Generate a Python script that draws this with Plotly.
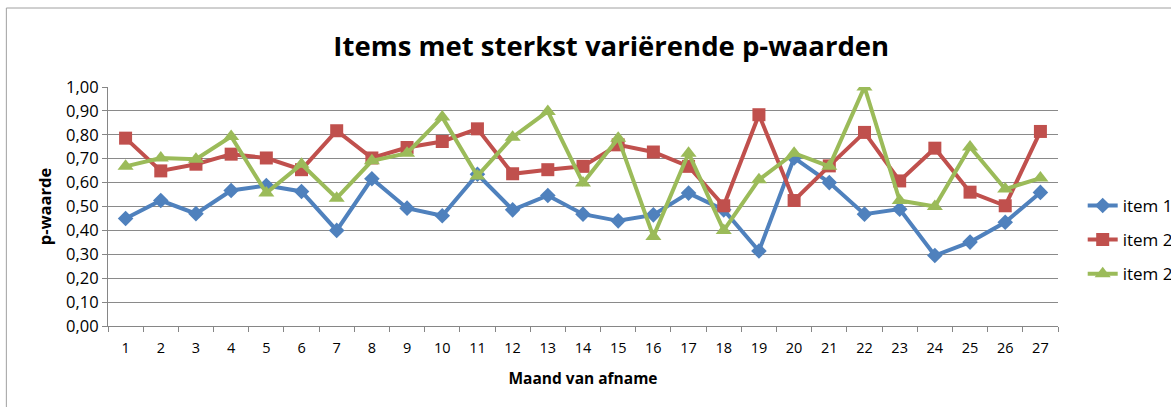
import plotly.graph_objects as go

months = [str(i) for i in range(1, 28)]
item_1 = [0.45, 0.525, 0.47, 0.567, 0.588, 0.563, 0.40, 0.616, 0.493, 0.461, 0.635, 0.486, 0.546, 0.468,
          0.44, 0.465, 0.556, 0.486, 0.314, 0.703, 0.60, 0.468, 0.489, 0.295, 0.351, 0.434, 0.559]
item_2a = [0.786, 0.649, 0.677, 0.719, 0.703, 0.654, 0.817, 0.703, 0.747, 0.772, 0.825, 0.637, 0.654, 0.668,
           0.758, 0.728, 0.668, 0.503, 0.884, 0.525, 0.670, 0.81, 0.607, 0.744, 0.56, 0.503, 0.814]
item_2b = [0.668, 0.703, 0.698, 0.793, 0.556, 0.677, 0.535, 0.691, 0.723, 0.874, 0.628, 0.79, 0.898, 0.598,
           0.786, 0.374, 0.723, 0.40, 0.612, 0.723, 0.668, 1.00, 0.525, 0.50, 0.749, 0.573, 0.619]
series_names = ["item 1", "item 2", "item 2"]
y_ticks = [i / 10 for i in range(11)]

fig = go.Figure()
styles = [("#4F81BD", "diamond", 12), ("#C0504D", "square", 13), ("#9BBB59", "triangle-up", 14)]
for k, (name, vals, (col, sym, sz)) in enumerate(zip(series_names, [item_1, item_2a, item_2b], styles)):
    fig.add_trace(go.Scatter(x=months, y=vals, name=name, mode="lines+markers",
                             legendgroup=f"g{k}",
                             line=dict(color=col, width=4),
                             marker=dict(symbol=sym, size=sz, color=col)))

font = "Open Sans, Noto Sans, sans-serif"
fig.update_layout(
    width=1171, height=407,
    margin=dict(l=108, r=113, t=87, b=81, autoexpand=False),
    paper_bgcolor="white", plot_bgcolor="white",
    separators=",.",
    font=dict(family=font, size=14, color="black"),
    title=dict(text="<b>Items met sterkst variërende p-waarden</b>", x=0.522, xanchor="center",
               y=0.885, yanchor="middle", font=dict(size=27.5, family=font)),
    showlegend=True,
    legend=dict(x=1.026, xanchor="left", y=0.36, yanchor="middle", font=dict(size=17),
                tracegroupgap=9, bgcolor="rgba(0,0,0,0)"),
    xaxis=dict(type="category", range=[-0.5, len(months) - 0.5], tickson="boundaries", ticks="outside",
               ticklen=5, tickcolor="#868686", ticklabelstandoff=9,
               showline=True, linecolor="#868686", linewidth=1, showgrid=False,
               tickfont=dict(size=14.5), title=dict(text="<b>Maand van afname</b>", font=dict(size=15.5), standoff=16)),
    yaxis=dict(range=[0, 1.0], tickvals=y_ticks, tickformat=".2f", ticks="outside", ticklen=5,
               tickcolor="#868686", showline=True, linecolor="#868686", linewidth=1,
               showgrid=True, gridcolor="#8A8A8A", gridwidth=1, zeroline=False,
               tickfont=dict(size=16.5), title=dict(text="<b>p-waarde</b>", font=dict(size=16.5), standoff=10)),
)
fig.add_shape(type="rect", xref="paper", yref="paper", x0=-0.107, x1=1.2, y0=-0.35, y1=1.3305,
              line=dict(color="#A0A0A0", width=1), layer="below")
fig.write_html("out.html", config={"displayModeBar": False},
               post_script="document.body.style.margin='0';")
